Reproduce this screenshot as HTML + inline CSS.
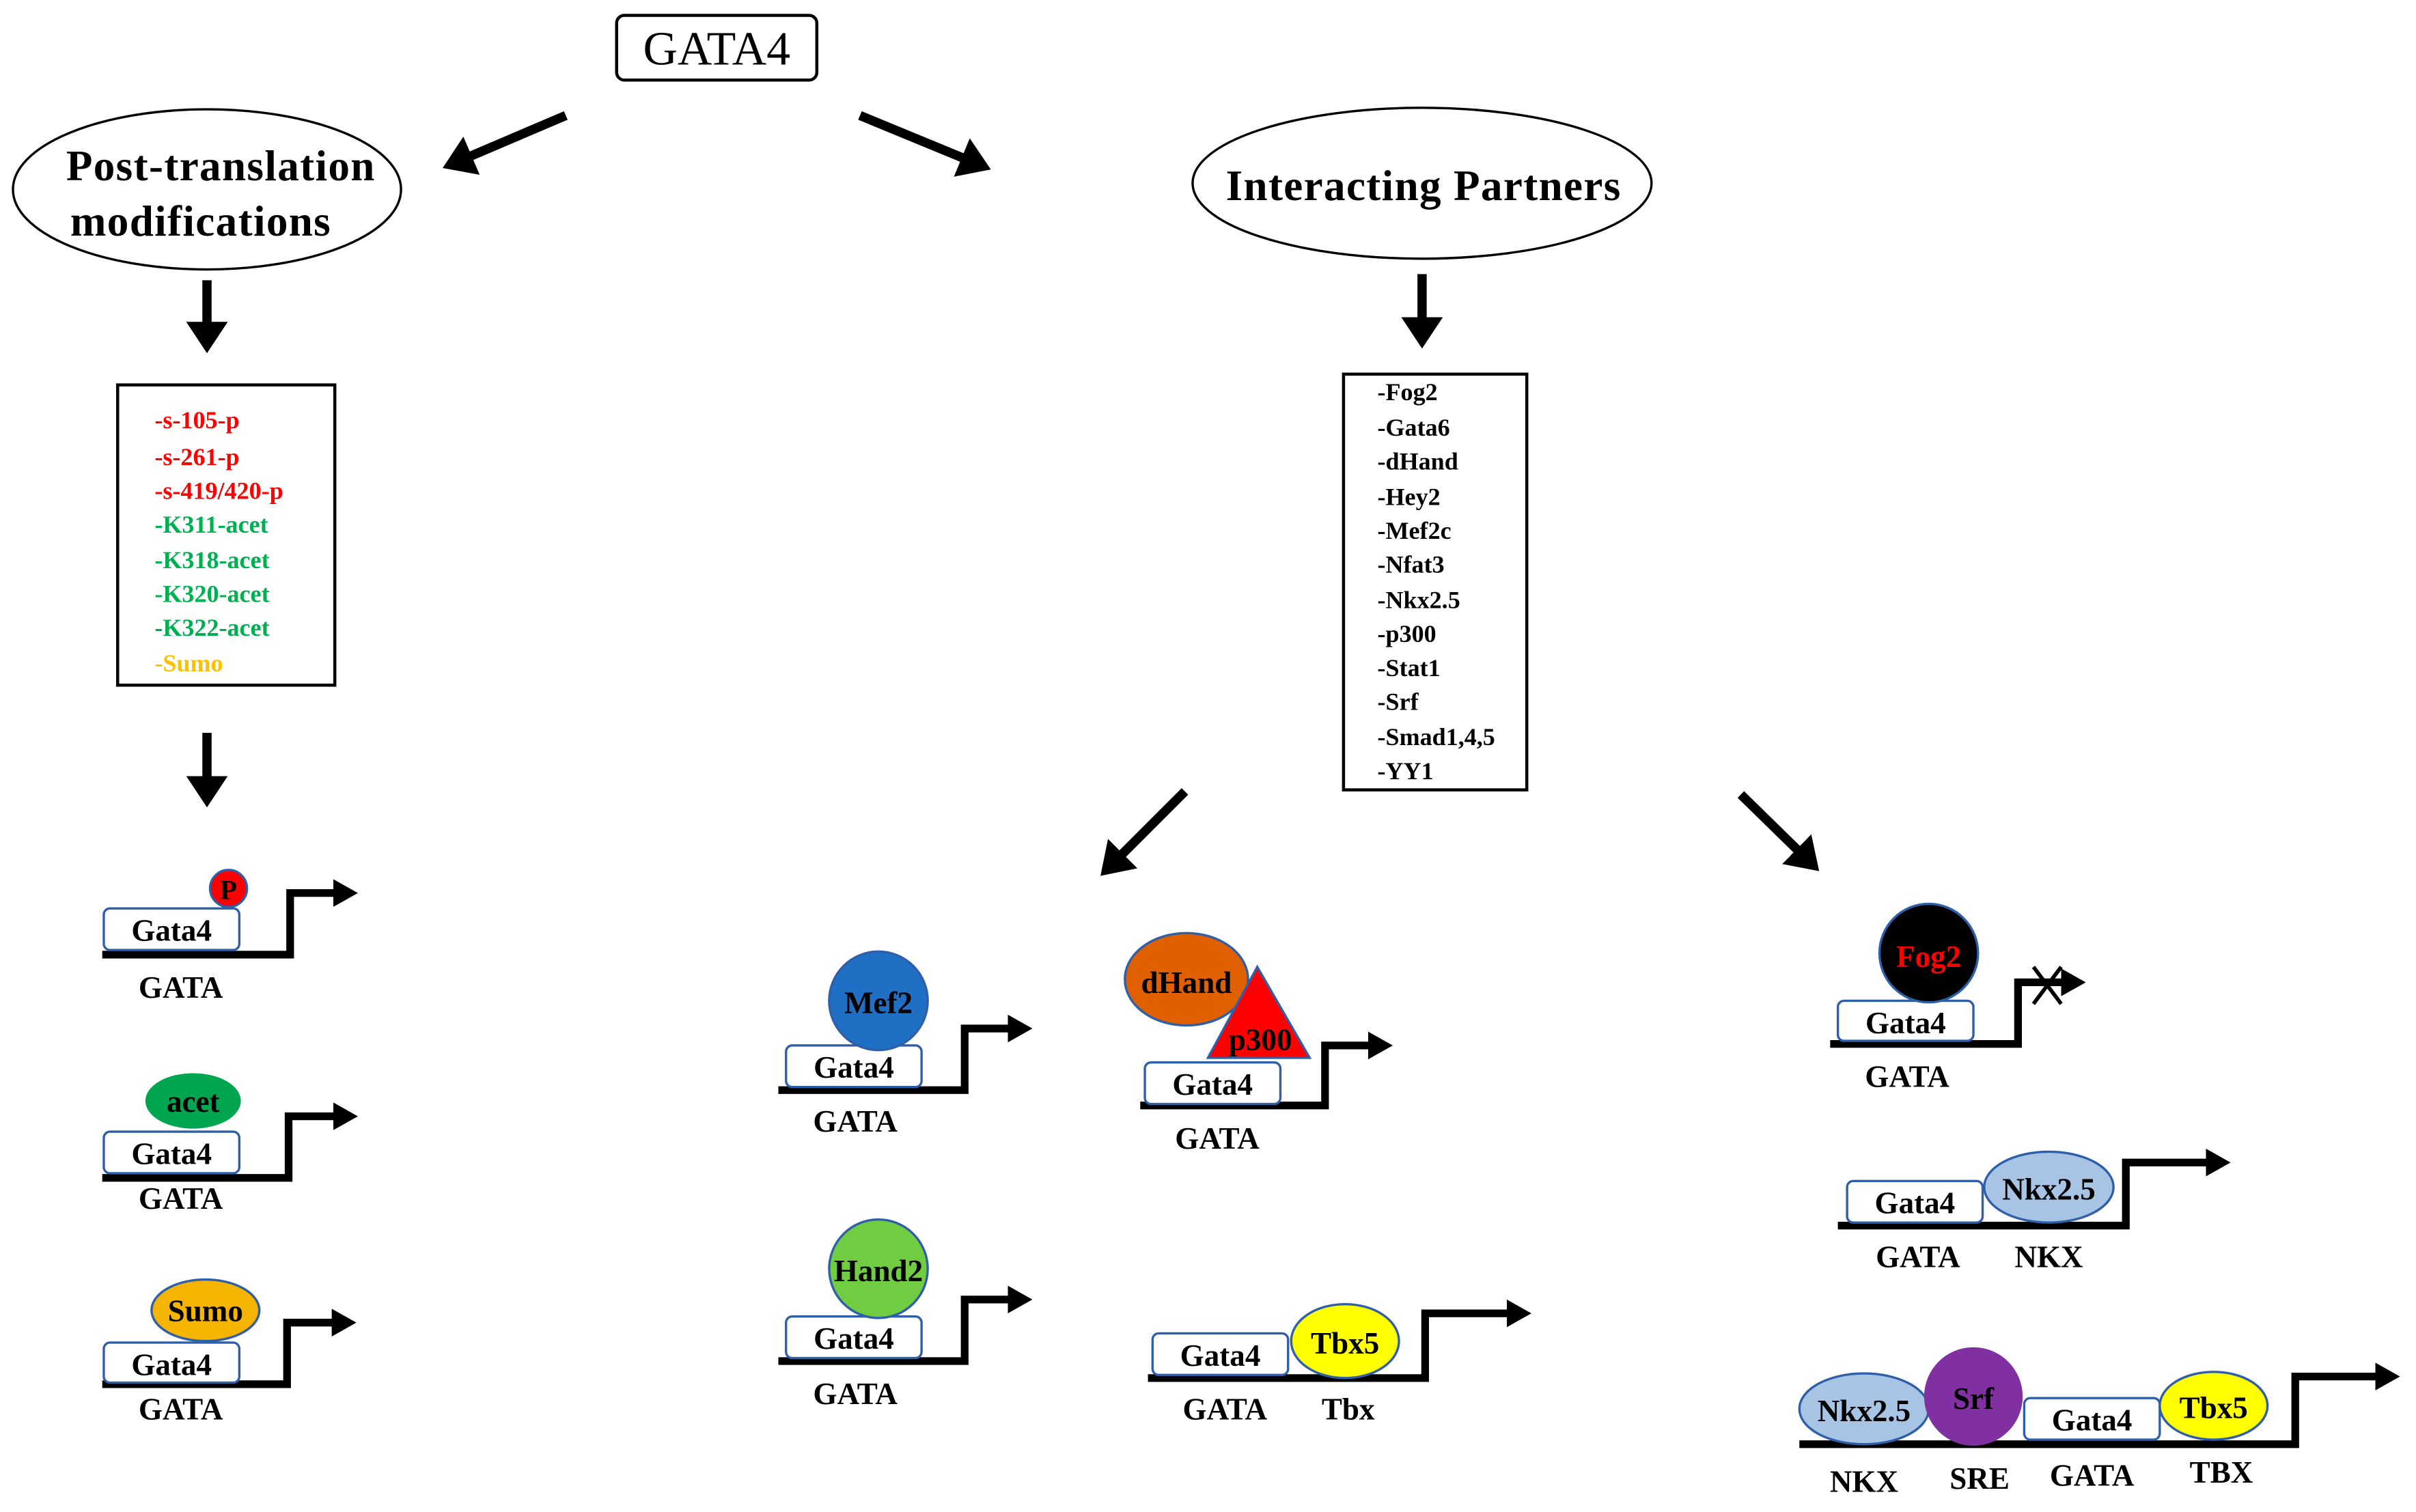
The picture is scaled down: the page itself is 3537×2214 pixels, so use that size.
<!DOCTYPE html>
<html><head><meta charset="utf-8"><style>
html,body{margin:0;padding:0;background:#fff;}
svg{display:block;}
text{font-family:"Liberation Serif",serif;}
</style></head><body>
<svg width="3537" height="2214" viewBox="0 0 1568 982" xmlns="http://www.w3.org/2000/svg">
<defs>
<marker id="ah" markerWidth="4.5" markerHeight="4.5" refX="2.5" refY="2.25" orient="auto" markerUnits="strokeWidth"><path d="M0,0 L3.4,2.25 L0,4.5 Z" fill="#000"/></marker>
<marker id="sa" markerWidth="3.6" markerHeight="3.6" refX="2" refY="1.8" orient="auto" markerUnits="strokeWidth"><path d="M0,0 L3.2,1.8 L0,3.6 Z" fill="#000"/></marker>
</defs>
<g fill="none" stroke="#000">
<rect x="400" y="10" width="130" height="42" rx="5" stroke-width="2"/>
<ellipse cx="134" cy="123" rx="126" ry="52" stroke-width="1.5"/>
<ellipse cx="923" cy="119" rx="149" ry="49" stroke-width="1.5"/>
<rect x="76" y="250" width="141" height="195" stroke-width="2"/>
<rect x="872" y="243" width="119" height="270" stroke-width="2"/>
<g stroke-width="6" marker-end="url(#ah)">
<line x1="367" y1="75" x2="292" y2="107"/>
<line x1="558" y1="75" x2="638" y2="108"/>
<line x1="134" y1="182" x2="134" y2="224"/>
<line x1="923" y1="178" x2="923" y2="221"/>
<line x1="134" y1="476" x2="134" y2="519"/>
<line x1="769" y1="514" x2="718" y2="565"/>
<line x1="1130" y1="516" x2="1177" y2="562"/>
</g>
<g stroke-width="5">
<path d="M66 620 H188 V580 H226" marker-end="url(#sa)"/>
<path d="M66 765 H187 V725 H226" marker-end="url(#sa)"/>
<path d="M66 899 H186 V859 H225" marker-end="url(#sa)"/>
<path d="M505 708 H626 V668 H664" marker-end="url(#sa)"/>
<path d="M505 884 H626 V844 H664" marker-end="url(#sa)"/>
<path d="M740 718 H860 V679 H898" marker-end="url(#sa)"/>
<path d="M745 895 H925 V853 H988" marker-end="url(#sa)"/>
<path d="M1188 678 H1310 V638 H1348" marker-end="url(#sa)"/>
<path d="M1193 796 H1380 V755 H1442" marker-end="url(#sa)"/>
<path d="M1168 938 H1490 V894 H1552" marker-end="url(#sa)"/>
</g>
<g stroke-width="2.5"><line x1="1320" y1="628" x2="1338" y2="652"/><line x1="1338" y1="628" x2="1320" y2="652"/></g>
</g>
<g text-anchor="middle" font-size="31"><text x="465" y="42">GATA4</text></g>
<g font-size="28" font-weight="bold" text-anchor="middle" style="letter-spacing:0.6px">
<text x="143" y="117">Post-translation</text>
<text x="130" y="153">modifications</text>
<text x="924" y="130">Interacting Partners</text>
</g>
<g font-size="16" font-weight="bold">
<text x="100" y="278" fill="#ff0000">-s-105-p</text>
<text x="100" y="302" fill="#ff0000">-s-261-p</text>
<text x="100" y="324" fill="#ff0000">-s-419/420-p</text>
<text x="100" y="346" fill="#00b050">-K311-acet</text>
<text x="100" y="369" fill="#00b050">-K318-acet</text>
<text x="100" y="391" fill="#00b050">-K320-acet</text>
<text x="100" y="413" fill="#00b050">-K322-acet</text>
<text x="100" y="436" fill="#ffc000">-Sumo</text>
</g>
<g font-size="16" font-weight="bold">
<text x="894" y="260">-Fog2</text><text x="894" y="283">-Gata6</text><text x="894" y="305">-dHand</text>
<text x="894" y="328">-Hey2</text><text x="894" y="350">-Mef2c</text><text x="894" y="372">-Nfat3</text>
<text x="894" y="395">-Nkx2.5</text><text x="894" y="417">-p300</text><text x="894" y="439">-Stat1</text>
<text x="894" y="461">-Srf</text><text x="894" y="484">-Smad1,4,5</text><text x="894" y="506">-YY1</text>
</g>
<g stroke="#2e5fa8" stroke-width="1.5" fill="#fff">
<rect x="67" y="590" width="88" height="27" rx="4"/>
<rect x="67" y="735" width="88" height="27" rx="4"/>
<rect x="67" y="872" width="88" height="26" rx="4"/>
<rect x="510" y="679" width="88" height="27" rx="4"/>
<rect x="510" y="855" width="88" height="27" rx="4"/>
<rect x="743" y="690" width="88" height="27" rx="4"/>
<rect x="748" y="866" width="88" height="27" rx="4"/>
<rect x="1193" y="650" width="88" height="26" rx="4"/>
<rect x="1199" y="767" width="88" height="27" rx="4"/>
<rect x="1314" y="908" width="88" height="27" rx="4"/>
</g>
<g stroke="#2e5fa8" stroke-width="1.5">
<circle cx="148" cy="577" r="12" fill="#ff0000"/>
<ellipse cx="125" cy="715" rx="31" ry="18" fill="#00a64f" stroke="none"/>
<ellipse cx="133" cy="851" rx="35" ry="20" fill="#f5b400"/>
<circle cx="570" cy="650" r="32" fill="#1f6fc5"/>
<circle cx="570" cy="824" r="32" fill="#70cc40"/>
<ellipse cx="770" cy="636" rx="40" ry="30" fill="#e06000"/>
<polygon points="784,687 816,628 850,687" fill="#ff0000"/>
<ellipse cx="873" cy="871" rx="35" ry="24" fill="#ffff00"/>
<circle cx="1252" cy="619" r="32" fill="#000"/>
<ellipse cx="1330" cy="771" rx="42" ry="23" fill="#a8c4e4"/>
<ellipse cx="1210" cy="915" rx="42" ry="23" fill="#a8c4e4"/>
<circle cx="1281" cy="907" r="32" fill="#8030a0" stroke="none"/>
<ellipse cx="1437" cy="913" rx="35" ry="22" fill="#ffff00"/>
</g>
<g font-size="20" font-weight="bold" text-anchor="middle">
<text x="111" y="611">Gata4</text><text x="111" y="756">Gata4</text><text x="111" y="893">Gata4</text>
<text x="554" y="700">Gata4</text><text x="554" y="876">Gata4</text><text x="787" y="711">Gata4</text>
<text x="792" y="887">Gata4</text><text x="1237" y="671">Gata4</text><text x="1243" y="788">Gata4</text>
<text x="1358" y="929">Gata4</text>
<text x="148" y="584" font-size="18">P</text>
<text x="125" y="722">acet</text><text x="133" y="858">Sumo</text>
<text x="570" y="658">Mef2</text><text x="570" y="832">Hand2</text>
<text x="770" y="645">dHand</text><text x="818" y="682">p300</text>
<text x="873" y="879">Tbx5</text>
<text x="1252" y="628" fill="#ff0000">Fog2</text>
<text x="1330" y="779">Nkx2.5</text><text x="1210" y="923">Nkx2.5</text>
<text x="1281" y="915">Srf</text><text x="1437" y="921">Tbx5</text>
<text x="117" y="648">GATA</text><text x="117" y="785">GATA</text><text x="117" y="922">GATA</text>
<text x="555" y="735">GATA</text><text x="555" y="912">GATA</text><text x="790" y="746">GATA</text>
<text x="795" y="922">GATA</text><text x="875" y="922">Tbx</text>
<text x="1238" y="706">GATA</text><text x="1245" y="823">GATA</text><text x="1330" y="823">NKX</text>
<text x="1210" y="969">NKX</text><text x="1285" y="967">SRE</text><text x="1358" y="965">GATA</text><text x="1442" y="963">TBX</text>
</g>
</svg>
</body></html>
